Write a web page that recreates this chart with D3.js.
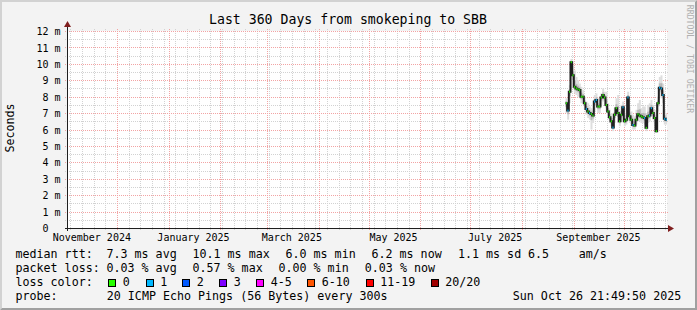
<!DOCTYPE html>
<html>
<head>
<meta charset="utf-8">
<script src="https://cdn.jsdelivr.net/npm/d3@7"></script>
<style>
  html, body { margin: 0; padding: 0; background: #f3f3f3; }
  svg { display: block; }
  text { font-family: "DejaVu Sans Mono", monospace; fill: #000; }
</style>
</head>
<body>
<div id="chart"></div>
<script>
// ---------------- data ----------------
var graphStart = "2024-10-31T21:49:50Z",
    graphEnd = "2025-10-26T21:49:50Z",
    firstDay = "2025-08-27";

// daily median rtt in ms, Aug 27 .. Oct 26 2025
var medianMs = [7.6, 7.15, 8.3, 10.1, 9.3, 8.6, 8.5, 8.45, 8.4, 8.0,
                8.0, 7.6, 7.25, 7.1, 7.0, 6.95, 6.85, 7.7, 7.8, 7.4,
                7.4, 7.95, 8.1, 7.95, 7.5, 7.1, 6.75, 6.5, 6.12, 6.9,
                7.3, 7.0, 6.5, 6.9, 7.35, 6.5, 6.6, 7.95, 6.8, 6.6,
                6.28, 6.24, 6.6, 6.93, 6.85, 6.8, 6.75, 6.7, 6.1, 6.8,
                6.85, 7.3, 7.0, 6.7, 5.9, 7.6, 8.55, 8.5, 8.1, 6.65, 6.6];
// smoke (ping spread) low / high in ms
var smokeLo = [7.0, 6.6, 7.6, 8.5, 8.6, 8.2, 8.1, 8.0, 7.9, 7.6,
               7.6, 7.2, 6.9, 6.7, 6.6, 6.0, 6.4, 7.1, 7.3, 7.0,
               7.0, 7.5, 7.7, 7.5, 7.1, 6.8, 6.4, 6.2, 5.9, 6.4,
               6.9, 6.4, 6.2, 6.5, 6.8, 6.2, 6.3, 7.2, 6.4, 6.2,
               6.0, 6.0, 6.3, 6.5, 6.5, 6.4, 6.4, 6.3, 5.9, 6.4,
               6.5, 6.9, 6.6, 6.3, 5.8, 7.1, 8.0, 7.9, 7.6, 6.3, 6.3];
var smokeHi = [7.9, 7.5, 8.7, 10.3, 9.9, 9.6, 9.2, 9.0, 8.8, 8.6,
               8.4, 8.0, 7.7, 7.6, 7.4, 7.3, 7.2, 8.1, 8.2, 7.9,
               7.8, 8.2, 8.5, 8.3, 8.3, 7.6, 7.2, 7.0, 6.7, 7.3,
               7.9, 8.1, 7.1, 7.5, 7.7, 7.0, 7.3, 8.3, 7.4, 7.1,
               6.9, 6.8, 7.2, 7.6, 7.8, 7.3, 7.4, 7.4, 7.0, 7.5,
               7.6, 7.8, 7.5, 7.2, 7.0, 8.0, 9.2, 9.3, 8.8, 7.2, 7.0];
// loss bucket index per day (0 = no loss, 1 = one lost ping)
var lossIdx = [0, 1, 0, 0, 0, 0, 0, 0, 0, 0,
               0, 0, 1, 0, 1, 0, 0, 1, 1, 0,
               0, 0, 0, 0, 0, 0, 0, 0, 1, 0,
               0, 0, 0, 0, 1, 0, 0, 1, 0, 0,
               1, 0, 0, 0, 0, 0, 0, 1, 0, 0,
               1, 1, 0, 0, 0, 0, 1, 1, 1, 1, 1];

var lossLabels = ["0", "1", "2", "3", "4-5", "6-10", "11-19", "20/20"];
var lossColors = ["#26ff00", "#00b8ff", "#0059ff", "#7e00ff", "#ff00ff", "#ff5500", "#ff0000", "#a10000"];

var yTicks = [0, 1, 2, 3, 4, 5, 6, 7, 8, 9, 10, 11, 12];
var xTickLabels = ["November 2024", "January 2025", "March 2025", "May 2025", "July 2025", "September 2025"];

var rttStats = ["7.3 ms avg", "10.1 ms max", "6.0 ms min", "6.2 ms now", "1.1 ms sd", "6.5", "am/s"];
var lossStats = ["0.03 % avg", "0.57 % max", "0.00 % min", "0.03 % now"];
var probeText = "20 ICMP Echo Pings (56 Bytes) every 300s";
var stampText = "Sun Oct 26 21:49:50 2025";

// ---------------- canvas ----------------
var W = 697, H = 310;
var plot = {left: 67, right: 667, top: 31, bottom: 228};

var svg = d3.select("#chart").append("svg")
    .attr("width", W)
    .attr("height", H);

svg.append("rect").attr("width", W).attr("height", H).attr("fill", "#f3f3f3");
// 3d frame
svg.append("path").attr("d", "M0,0H" + W + "L" + (W - 2) + ",2H2V" + (H - 2) + "L0," + H + "Z").attr("fill", "#d2d2d2");
svg.append("path").attr("d", "M" + W + ",0V" + H + "H0L2," + (H - 2) + "H" + (W - 2) + "V2Z").attr("fill", "#a0a0a0");

svg.append("rect")
    .attr("x", plot.left).attr("y", plot.top)
    .attr("width", plot.right - plot.left).attr("height", plot.bottom - plot.top)
    .attr("fill", "#fff");

// ---------------- scales ----------------
var x = d3.scaleUtc()
    .domain([new Date(graphStart), new Date(graphEnd)])
    .range([plot.left, plot.right]);
var y = d3.scaleLinear()
    .domain([0, 12])
    .range([plot.bottom, plot.top]);

var crisp = function(v) { return Math.round(v) + 0.5; };

// ---------------- grid ----------------
var grid = svg.append("g").attr("stroke-dasharray", "1,1").attr("stroke-width", 1);

// minor: weekly / half ms
grid.selectAll(".vmin")
    .data(d3.utcSunday.range(x.domain()[0], x.domain()[1]))
    .enter().append("line")
    .attr("x1", d => crisp(x(d))).attr("x2", d => crisp(x(d)))
    .attr("y1", plot.top - 2).attr("y2", plot.bottom + 3)
    .attr("stroke", "#d2d2d2");
grid.selectAll(".hmin")
    .data(d3.range(0.5, 12, 1))
    .enter().append("line")
    .attr("x1", plot.left - 2).attr("x2", plot.right + 2)
    .attr("y1", d => crisp(y(d))).attr("y2", d => crisp(y(d)))
    .attr("stroke", "#d2d2d2");

// major: months / whole ms
grid.selectAll(".vmaj")
    .data(d3.utcMonth.range(x.domain()[0], x.domain()[1]))
    .enter().append("line")
    .attr("x1", d => crisp(x(d))).attr("x2", d => crisp(x(d)))
    .attr("y1", plot.top - 2).attr("y2", plot.bottom + 3)
    .attr("stroke", "#f2a4a4");
grid.selectAll(".hmaj")
    .data(yTicks.slice(1))
    .enter().append("line")
    .attr("x1", plot.left - 2).attr("x2", plot.right + 2)
    .attr("y1", d => crisp(y(d))).attr("y2", d => crisp(y(d)))
    .attr("stroke", "#f2a4a4");

// ---------------- smoke ----------------
var day0 = new Date(firstDay + "T00:00:00Z");
var days = d3.utcDay.range(day0, d3.utcDay.offset(day0, medianMs.length));
var data = days.map(function(d, i) {
  return {t0: d, t1: d3.utcDay.offset(d, 1), med: medianMs[i], lo: smokeLo[i], hi: smokeHi[i], loss: lossIdx[i]};
});

svg.append("clipPath").attr("id", "clip")
  .append("rect")
    .attr("x", plot.left).attr("y", plot.top)
    .attr("width", plot.right - plot.left).attr("height", plot.bottom - plot.top);

var marks = svg.append("g").attr("clip-path", "url(#clip)");

marks.selectAll(".smoke")
    .data(data)
    .enter().append("rect")
    .attr("x", d => x(d.t0))
    .attr("width", d => x(d.t1) - x(d.t0) + 0.3)
    .attr("y", d => y(d.hi))
    .attr("height", d => y(d.lo) - y(d.hi))
    .attr("fill", "#dedede");

// darker core of the smoke around the median
marks.selectAll(".core")
    .data(data)
    .enter().append("rect")
    .attr("x", d => x(d.t0))
    .attr("width", d => x(d.t1) - x(d.t0) + 0.3)
    .attr("y", d => y(d.med + (d.hi - d.med) * 0.4))
    .attr("height", d => y(d.med - (d.med - d.lo) * 0.4) - y(d.med + (d.hi - d.med) * 0.4))
    .attr("fill", "#b8b8b8");

// ---------------- median ----------------
var line = d3.line()
    .x(d => x(d.t))
    .y(d => y(d.v))
    .curve(d3.curveStepAfter);
var linePts = data.map(d => ({t: d.t0, v: d.med}));
linePts.push({t: data[data.length - 1].t1, v: data[data.length - 1].med});

marks.append("path")
    .attr("d", line(linePts))
    .attr("fill", "none")
    .attr("stroke", "#202020")
    .attr("stroke-width", 2);

marks.selectAll(".loss")
    .data(data)
    .enter().append("rect")
    .attr("x", d => x(d.t0) + 0.3)
    .attr("width", d => x(d.t1) - x(d.t0) - 0.6)
    .attr("y", d => y(d.med) - 1)
    .attr("height", 2)
    .attr("fill", d => lossColors[d.loss]);

// ---------------- axes ----------------
var axisCol = "#1f1f1f", arrowCol = "#801f1f";
svg.append("line")
    .attr("x1", plot.left - 2).attr("x2", plot.right + 3)
    .attr("y1", plot.bottom + 0.5).attr("y2", plot.bottom + 0.5)
    .attr("stroke", axisCol);
svg.append("line")
    .attr("x1", plot.left + 0.5).attr("x2", plot.left + 0.5)
    .attr("y1", plot.bottom + 3).attr("y2", plot.top - 4)
    .attr("stroke", axisCol);
svg.append("path")
    .attr("d", "M" + (plot.right + 7) + "," + (plot.bottom + 0.5) + "L" + (plot.right + 1) + "," + (plot.bottom - 3) + "V" + (plot.bottom + 4) + "Z")
    .attr("fill", arrowCol);
svg.append("path")
    .attr("d", "M" + (plot.left + 0.5) + "," + (plot.top - 10) + "L" + (plot.left - 3) + "," + (plot.top - 4) + "H" + (plot.left + 4) + "Z")
    .attr("fill", arrowCol);

// y labels
var yAxis = d3.axisLeft(y)
    .tickValues(yTicks)
    .tickSize(0)
    .tickPadding(0)
    .tickFormat(d => d === 0 ? "0" : d + " m");
var gy = svg.append("g")
    .attr("transform", "translate(" + (plot.left - 6.5) + ",0)")
    .call(yAxis);
gy.select(".domain").remove();
gy.selectAll("text")
    .attr("font-family", "DejaVu Sans Mono")
    .attr("font-size", 10)
    .attr("fill", "#000")
    .attr("dy", "0.36em")
    .attr("x", d => d === 0 ? -12 : 0);

// x labels: centered mid-month, every second month
var labelMonths = d3.utcMonth.every(2).range(x.domain()[0], x.domain()[1]).slice(0, xTickLabels.length);
var xAxis = d3.axisBottom(x)
    .tickValues(labelMonths.map(d => d3.utcHour.offset(d, 14 * 24 + 12)))
    .tickSize(0)
    .tickPadding(0)
    .tickFormat((d, i) => xTickLabels[i]);
var gx = svg.append("g")
    .attr("transform", "translate(0," + (plot.bottom + 4) + ")")
    .call(xAxis);
gx.select(".domain").remove();
gx.selectAll("text")
    .attr("font-family", "DejaVu Sans Mono")
    .attr("font-size", 10)
    .attr("fill", "#000")
    .attr("dy", "0")
    .attr("y", 9);

// ---------------- titles ----------------
svg.append("text")
    .attr("x", 348).attr("y", 23.6)
    .attr("text-anchor", "middle")
    .attr("font-size", 13.2)
    .text("Last 360 Days from smokeping to SBB");

svg.append("text")
    .attr("transform", "translate(14,128) rotate(-90)")
    .attr("text-anchor", "middle")
    .attr("font-size", 11.67)
    .text("Seconds");

svg.append("text")
    .attr("transform", "translate(686.5,59) rotate(90)")
    .attr("text-anchor", "middle")
    .attr("font-size", 8.2)
    .style("fill", "#b0b0b0")
    .text("RRDTOOL / TOBI OETIKER");

// ---------------- legend ----------------
var fs = 11.67;
var rows = [257.7, 271.7, 285.7, 299.7];
var legend = svg.append("g").attr("font-size", fs);

function put(txt, lx, row) {
  legend.append("text").attr("x", lx).attr("y", rows[row]).text(txt);
}

put("median rtt:", 15.5, 0);
[106.5, 192.5, 285.5, 371.5, 458, 528, 578.8].forEach(function(lx, i) { put(rttStats[i], lx, 0); });

put("packet loss:", 15.5, 1);
[106.5, 192.5, 278.5, 364.8].forEach(function(lx, i) { put(lossStats[i], lx, 1); });

put("loss color:", 15.5, 2);
var boxX = [108.3, 145.7, 182.3, 219.3, 256.3, 307.3, 365.7, 430.7];
lossLabels.forEach(function(lbl, i) {
  legend.append("rect")
      .attr("x", Math.round(boxX[i]) + 0.5).attr("y", 279.5)
      .attr("width", 7).attr("height", 7)
      .attr("fill", lossColors[i])
      .attr("stroke", "#000");
  put(lbl, boxX[i] + 14.5, 2);
});

put("probe:", 15.5, 3);
put(probeText, 106.8, 3);
put(stampText, 512.8, 3);
</script>
</body>
</html>
